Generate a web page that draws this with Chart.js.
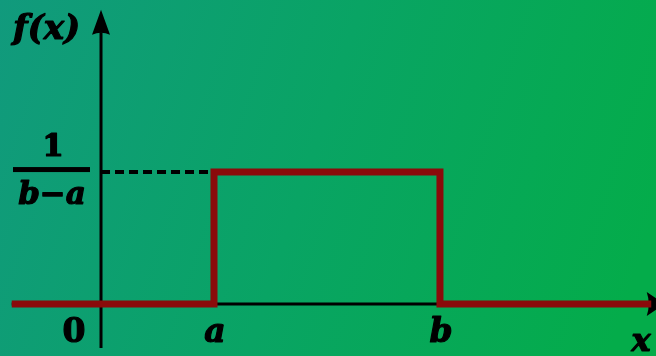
<!DOCTYPE html>
<html>
<head>
<meta charset="utf-8">
<script src="https://cdn.jsdelivr.net/npm/chart.js@4"></script>
<style>
  html, body { margin: 0; padding: 0; }
  #wrap { width: 656px; height: 356px; }
</style>
</head>
<body>
<div id="wrap"><canvas id="uniformChart"></canvas></div>
<script>
// uniform density f(x) on [a, b], with a = 1, b = 3
const densityX = [-0.79, 1, 1, 3, 3, 4.87]
const densityY = [0, 0, 0.5, 0.5, 0, 0]
const guideX = [0, 1]
const guideY = [0.5, 0.5]
const tickValues = [0, 1, 3]
const tickLabels = ['0', 'a', 'b']
const axisNames = ['x', 'f(x)']

const toPoints = (xs, ys) => xs.map((x, i) => ({ x: x, y: ys[i] }))

const serif = '"DejaVu Serif", "Liberation Serif", serif'

const background = {
    id: 'background',
    beforeDraw: (chart) => {
        const { ctx, width, height } = chart
        const g = ctx.createLinearGradient(0, 0, width, height * 0.6)
        g.addColorStop(0, '#119a7d')
        g.addColorStop(0.5, '#09a464')
        g.addColorStop(1, '#04ac4a')
        ctx.save()
        ctx.fillStyle = g
        ctx.fillRect(0, 0, width, height)
        ctx.restore()
    }
}

// axes with arrowheads, drawn before the datasets so the red line sits on top
const axes = {
    id: 'axes',
    beforeDatasetsDraw: (chart) => {
        const { ctx, scales: { x, y } } = chart
        const x0 = x.getPixelForValue(0)
        const y0 = y.getPixelForValue(0)
        ctx.save()
        ctx.strokeStyle = '#000'
        ctx.fillStyle = '#000'
        ctx.lineWidth = 3
        ctx.beginPath()
        ctx.moveTo(x0, y.getPixelForValue(-0.167))
        ctx.lineTo(x0, y.getPixelForValue(1.03))
        ctx.moveTo(x.getPixelForValue(-0.79), y0)
        ctx.lineTo(x.getPixelForValue(4.9), y0)
        ctx.stroke()
        // y arrow
        const top = y.getPixelForValue(1.115)
        const base = y.getPixelForValue(1.02)
        ctx.beginPath()
        ctx.moveTo(x0, top)
        ctx.lineTo(x0 + 9, base)
        ctx.quadraticCurveTo(x0, base - 4, x0 - 9, base)
        ctx.closePath()
        ctx.fill()
        // x arrow (tip runs off the right edge)
        const xb = x.getPixelForValue(4.83)
        const xt = x.getPixelForValue(4.99)
        ctx.beginPath()
        ctx.moveTo(xt, y0)
        ctx.lineTo(xb, y0 - 12)
        ctx.quadraticCurveTo(xb + 4, y0, xb, y0 + 12)
        ctx.closePath()
        ctx.fill()
        ctx.restore()
    }
}

const heavyText = (ctx, text, px, py) => {
    ctx.lineWidth = 1.2
    ctx.strokeText(text, px, py)
    ctx.fillText(text, px, py)
}

const labels = {
    id: 'labels',
    afterDraw: (chart) => {
        const { ctx, scales: { x, y } } = chart
        const y0 = y.getPixelForValue(0)
        ctx.save()
        ctx.fillStyle = '#000'
        ctx.strokeStyle = '#000'
        ctx.lineJoin = 'round'
        ctx.textAlign = 'center'
        ctx.textBaseline = 'alphabetic'
        tickValues.forEach((v, i) => {
            const isDigit = /[0-9]/.test(tickLabels[i])
            ctx.font = (isDigit ? 'bold ' : 'bold italic ') + '33px ' + serif
            const px = v === 0 ? x.getPixelForValue(v) - 27 : x.getPixelForValue(v) + 1
            heavyText(ctx, tickLabels[i], px, y0 + 38)
        })
        ctx.font = 'bold italic 32px ' + serif
        heavyText(ctx, axisNames[0], x.getPixelForValue(4.78), y0 + 47)

        // f(x) title
        ctx.textAlign = 'left'
        ctx.font = 'bold italic 34px ' + serif
        heavyText(ctx, axisNames[1], 13, 39)

        // 1 / (b - a) fraction at the height of the density
        const yh = y.getPixelForValue(guideY[0])
        ctx.textAlign = 'center'
        ctx.font = 'bold 31px ' + serif
        heavyText(ctx, '1', 53, yh - 16)
        ctx.fillRect(13, yh - 5, 77, 5)
        ctx.font = 'bold italic 31px ' + serif
        heavyText(ctx, 'b\u2212a', 52, yh + 32)
        ctx.restore()
    }
}

Chart.defaults.font.family = 'DejaVu Serif'

new Chart(document.getElementById('uniformChart'), {
    type: 'scatter',
    data: {
        datasets: [{
            label: 'f(x)',
            data: toPoints(densityX, densityY),
            showLine: true,
            borderColor: '#8a0b0b',
            borderWidth: 7,
            borderCapStyle: 'butt',
            borderJoinStyle: 'miter',
            pointRadius: 0,
            tension: 0
        }, {
            label: 'guide',
            data: toPoints(guideX, guideY),
            showLine: true,
            borderColor: '#000',
            borderWidth: 4,
            borderDash: [9, 5],
            pointRadius: 0,
            order: 1
        }]
    },
    options: {
        responsive: true,
        maintainAspectRatio: false,
        animation: false,
        layout: { padding: 0 },
        scales: {
            x: { type: 'linear', display: false, min: -0.894, max: 4.912 },
            y: { type: 'linear', display: false, min: -0.197, max: 1.152 }
        },
        plugins: {
            legend: { display: false },
            tooltip: { enabled: false }
        }
    },
    plugins: [background, axes, labels]
})
</script>
</body>
</html>
